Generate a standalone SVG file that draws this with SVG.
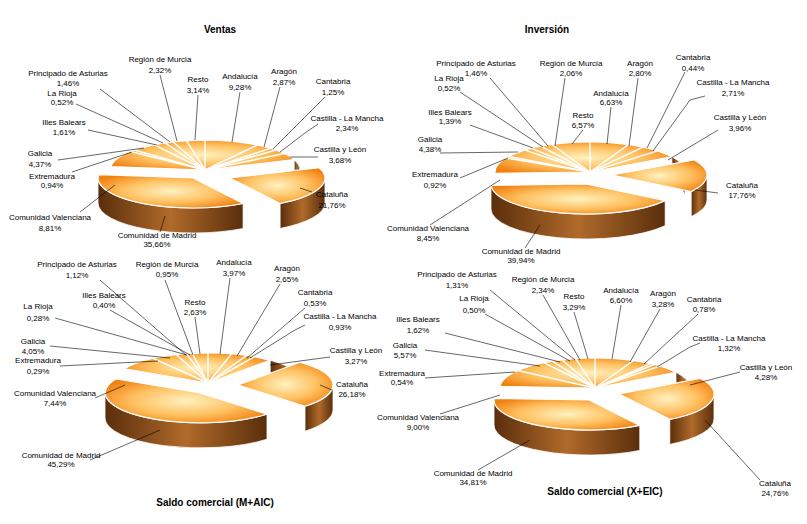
<svg xmlns="http://www.w3.org/2000/svg" width="807" height="524" viewBox="0 0 807 524">
<defs>
<radialGradient id="top" cx="0.5" cy="0.5" r="0.6"><stop offset="0" stop-color="#fff1c0"/><stop offset="0.55" stop-color="#ffc060"/><stop offset="1" stop-color="#f08010"/></radialGradient>
<linearGradient id="side" x1="0" y1="0" x2="1" y2="0"><stop offset="0" stop-color="#5a2e0c"/><stop offset="0.5" stop-color="#b06a2a"/><stop offset="1" stop-color="#5a2e0c"/></linearGradient>
</defs>
<style>
text{font-family:"Liberation Sans",Arial,sans-serif;font-size:8px;fill:#000;text-anchor:middle}
.t{font-weight:bold;font-size:10px}
.s{fill:url(#top);stroke:#fff;stroke-width:1.2}
.d{fill:url(#side);stroke:#fff;stroke-width:0.8}
.sep{stroke:#fff;stroke-width:1.5}
#leaders line,#leaders polyline{stroke:#000;stroke-width:0.6;fill:none}
</style>
<rect width="807" height="524" fill="#fff"/>

<g id="pie-ventas" transform="translate(205,170)">
<path class="d" d="M89.2,-10.3 A95,30 0 0 1 95,0 L95,25 A95,30 0 0 0 89.2,14.7 Z"/>
<path class="s" d="M0,0 L-94.3,-3.4 A95,30 0 0 1 89.2,-10.3 Z"/>
<g class="sep"><line x1="0" y1="0" x2="0" y2="-30"/><line x1="0" y1="0" x2="52.3" y2="-25"/><line x1="0" y1="0" x2="65.6" y2="-21.7"/><line x1="0" y1="0" x2="70.9" y2="-20"/><line x1="0" y1="0" x2="79.4" y2="-16.5"/><line x1="0" y1="0" x2="-18.6" y2="-29.4"/><line x1="0" y1="0" x2="-32" y2="-28.2"/><line x1="0" y1="0" x2="-40" y2="-27.2"/><line x1="0" y1="0" x2="-51.2" y2="-25.3"/><line x1="0" y1="0" x2="-70.9" y2="-20"/><line x1="0" y1="0" x2="-74.6" y2="-18.6"/></g>
<g transform="translate(-12,8)"><path class="d" d="M50.1,25.5 A95,30 0 0 1 -95,0 L-95,25 A95,30 0 0 0 50.1,50.5 Z"/><path class="s" d="M0,0 L50.1,25.5 A95,30 0 0 1 -94.3,-3.4 Z"/></g>
<g transform="translate(25,8)"><path class="d" d="M95,0 A95,30 0 0 1 50.1,25.5 L50.1,50.5 A95,30 0 0 0 95,25 Z"/><path class="s" d="M0,0 L89.2,-10.3 A95,30 0 0 1 50.1,25.5 Z"/></g>
</g>

<g id="pie-inversion" transform="translate(590,172)">
<path class="d" d="M81.9,-15.2 A95,30 0 0 1 95,0 L95,25 A95,30 0 0 0 81.9,9.8 Z"/>
<path class="s" d="M0,0 L-94.9,1.4 A95,30 0 0 1 81.9,-15.2 Z"/>
<g class="sep"><line x1="0" y1="0" x2="0" y2="-30"/><line x1="0" y1="0" x2="38.5" y2="-27.4"/><line x1="0" y1="0" x2="53" y2="-24.9"/><line x1="0" y1="0" x2="67.5" y2="-21.1"/><line x1="0" y1="0" x2="-84.1" y2="-14"/><line x1="0" y1="0" x2="-81.4" y2="-15.5"/><line x1="0" y1="0" x2="-65" y2="-21.9"/><line x1="0" y1="0" x2="-58.7" y2="-23.6"/><line x1="0" y1="0" x2="-49" y2="-25.7"/><line x1="0" y1="0" x2="-38.2" y2="-27.5"/></g>
<g transform="translate(-4,12)"><path class="d" d="M79.2,16.6 A95,30 0 0 1 -95,0 L-95,25 A95,30 0 0 0 79.2,41.6 Z"/><path class="s" d="M0,0 L79.2,16.6 A95,30 0 0 1 -94.9,1.4 Z"/></g>
<g transform="translate(22,3)"><path class="d" d="M95,0 A95,30 0 0 1 79.2,16.6 L79.2,41.6 A95,30 0 0 0 95,25 Z"/><path class="s" d="M0,0 L81.9,-15.2 A95,30 0 0 1 79.2,16.6 Z"/></g>
</g>

<g id="pie-maic" transform="translate(208,383)">
<path class="d" d="M62.2,-22.7 A95,30 0 0 1 95,0 L95,25 A95,30 0 0 0 62.2,2.3 Z"/>
<path class="s" d="M0,0 L-83.7,-14.2 A95,30 0 0 1 62.2,-22.7 Z"/>
<g class="sep"><line x1="0" y1="0" x2="0" y2="-30"/><line x1="0" y1="0" x2="23.5" y2="-29.1"/><line x1="0" y1="0" x2="38.3" y2="-27.4"/><line x1="0" y1="0" x2="46.2" y2="-26.2"/><line x1="0" y1="0" x2="-54.6" y2="-24.5"/><line x1="0" y1="0" x2="-31.6" y2="-28.3"/><line x1="0" y1="0" x2="-21.4" y2="-29.2"/><line x1="0" y1="0" x2="-15.7" y2="-29.6"/></g>
<g transform="translate(-8,10)"><path class="d" d="M67,21.2 A95,30 0 0 1 -95,0 L-95,25 A95,30 0 0 0 67,46.2 Z"/><path class="s" d="M0,0 L67,21.2 A95,30 0 0 1 -83.7,-14.2 Z"/></g>
<g transform="translate(30,2)"><path class="d" d="M95,0 A95,30 0 0 1 67,21.2 L67,46.2 A95,30 0 0 0 95,25 Z"/><path class="s" d="M0,0 L62.2,-22.7 A95,30 0 0 1 67,21.2 Z"/></g>
</g>

<g id="pie-xeic" transform="translate(595,388)">
<path class="d" d="M81,-15.7 A95,30 0 0 1 95,0 L95,25 A95,30 0 0 0 81,9.3 Z"/>
<path class="s" d="M0,0 L-94.9,-1.6 A95,30 0 0 1 81,-15.7 Z"/>
<g class="sep"><line x1="0" y1="0" x2="0" y2="-30"/><line x1="0" y1="0" x2="38.3" y2="-27.4"/><line x1="0" y1="0" x2="55.3" y2="-24.4"/><line x1="0" y1="0" x2="59" y2="-23.5"/><line x1="0" y1="0" x2="64.9" y2="-21.9"/><line x1="0" y1="0" x2="-77.4" y2="-17.4"/><line x1="0" y1="0" x2="-51.2" y2="-25.3"/><line x1="0" y1="0" x2="-42.8" y2="-26.8"/><line x1="0" y1="0" x2="-32.9" y2="-28.1"/><line x1="0" y1="0" x2="-19.4" y2="-29.4"/></g>
<g transform="translate(-6,12)"><path class="d" d="M50.8,25.4 A95,30 0 0 1 -95,0 L-95,25 A95,30 0 0 0 50.8,50.4 Z"/><path class="s" d="M0,0 L50.8,25.4 A95,30 0 0 1 -94.9,-1.6 Z"/></g>
<g transform="translate(24,6)"><path class="d" d="M95,0 A95,30 0 0 1 50.8,25.4 L50.8,50.4 A95,30 0 0 0 95,25 Z"/><path class="s" d="M0,0 L81,-15.7 A95,30 0 0 1 50.8,25.4 Z"/></g>
</g>

<g id="leaders">
<line x1="240" y1="92" x2="232" y2="142"/><line x1="280" y1="87" x2="264" y2="147"/><line x1="325" y1="97" x2="273" y2="149"/><polyline points="318,124 305,133 280,152"/><line x1="318" y1="157" x2="290" y2="157"/><line x1="312" y1="192" x2="300" y2="188"/><line x1="160" y1="232" x2="165" y2="216"/><polyline points="80,212 115,185"/><line x1="72" y1="172" x2="132" y2="152"/><line x1="58" y1="160" x2="144" y2="148"/><line x1="88" y1="130" x2="157" y2="145"/><line x1="76" y1="104" x2="163" y2="143"/><line x1="100" y1="89" x2="170" y2="142"/><line x1="160" y1="75" x2="177" y2="141"/><line x1="198" y1="95" x2="195" y2="140"/>
<line x1="490" y1="78" x2="548" y2="146"/><line x1="565" y1="78" x2="555" y2="146"/><line x1="638" y1="78" x2="629" y2="146"/><line x1="685" y1="72" x2="647" y2="148"/><line x1="460" y1="92" x2="543" y2="147"/><line x1="611" y1="107" x2="607" y2="144"/><polyline points="705,96 690,100 653,151"/><line x1="470" y1="125" x2="533" y2="148"/><line x1="583" y1="130" x2="572" y2="144"/><line x1="718" y1="130" x2="668" y2="160"/><line x1="440" y1="153" x2="518" y2="152"/><line x1="460" y1="178" x2="508" y2="158"/><line x1="718" y1="193" x2="695" y2="190"/><line x1="430" y1="225" x2="500" y2="180"/><line x1="525" y1="248" x2="540" y2="225"/>
<line x1="100" y1="280" x2="186" y2="355"/><line x1="165" y1="280" x2="193" y2="355"/><line x1="230" y1="278" x2="220" y2="354"/><line x1="280" y1="284" x2="237" y2="356"/><line x1="110" y1="310" x2="190" y2="355"/><line x1="195" y1="317" x2="200" y2="354"/><line x1="305" y1="308" x2="247" y2="358"/><line x1="55" y1="318" x2="187" y2="355"/><polyline points="305,325 295,330 250,358"/><line x1="50" y1="346" x2="170" y2="358"/><line x1="330" y1="357" x2="270" y2="365"/><line x1="60" y1="366" x2="158" y2="361"/><line x1="332" y1="390" x2="320" y2="385"/><line x1="95" y1="398" x2="125" y2="385"/><line x1="90" y1="460" x2="160" y2="430"/>
<line x1="490" y1="290" x2="575" y2="360"/><line x1="543" y1="295" x2="580" y2="360"/><line x1="574" y1="312" x2="588" y2="359"/><line x1="621" y1="305" x2="612" y2="359"/><line x1="660" y1="309" x2="630" y2="362"/><line x1="698" y1="314" x2="644" y2="364"/><line x1="485" y1="314" x2="570" y2="361"/><line x1="445" y1="333" x2="560" y2="362"/><polyline points="700,343 690,347 657,367"/><line x1="425" y1="350" x2="540" y2="366"/><line x1="740" y1="372" x2="690" y2="385"/><line x1="425" y1="378" x2="515" y2="372"/><line x1="440" y1="414" x2="500" y2="395"/><line x1="760" y1="480" x2="705" y2="420"/><line x1="478" y1="470" x2="530" y2="440"/>
</g>

<g id="labels">
<text class="t" x="220" y="33">Ventas</text>
<text x="160" y="62">Región de Murcia</text><text x="160" y="73">2,32%</text>
<text x="240" y="79">Andalucía</text><text x="240" y="90">9,28%</text>
<text x="284" y="74">Aragón</text><text x="284" y="85">2,87%</text>
<text x="198" y="82">Resto</text><text x="198" y="93">3,14%</text>
<text x="68" y="76">Principado de Asturias</text><text x="68" y="86">1,46%</text>
<text x="62" y="96">La Rioja</text><text x="62" y="105">0,52%</text>
<text x="333" y="84">Cantabria</text><text x="333" y="95">1,25%</text>
<text x="64" y="125">Illes Balears</text><text x="64" y="135">1,61%</text>
<text x="347" y="121">Castilla - La Mancha</text><text x="347" y="131">2,34%</text>
<text x="40" y="156">Galicia</text><text x="40" y="167">4,37%</text>
<text x="340" y="152">Castilla y León</text><text x="340" y="163">3,68%</text>
<text x="52" y="179">Extremadura</text><text x="52" y="188">0,94%</text>
<text x="332" y="197">Cataluña</text><text x="332" y="208">21,76%</text>
<text x="50" y="220">Comunidad Valenciana</text><text x="50" y="231">8,81%</text>
<text x="157" y="238">Comunidad de Madrid</text><text x="157" y="247">35,66%</text>

<text class="t" x="547" y="33">Inversión</text>
<text x="476" y="66">Principado de Asturias</text><text x="476" y="76">1,46%</text>
<text x="571" y="66">Región de Murcia</text><text x="571" y="76">2,06%</text>
<text x="640" y="66">Aragón</text><text x="640" y="76">2,80%</text>
<text x="693" y="60">Cantabria</text><text x="693" y="71">0,44%</text>
<text x="449" y="81">La Rioja</text><text x="449" y="91">0,52%</text>
<text x="611" y="96">Andalucía</text><text x="611" y="105">6,63%</text>
<text x="733" y="85">Castilla - La Mancha</text><text x="733" y="96">2,71%</text>
<text x="450" y="115">Illes Balears</text><text x="450" y="124">1,39%</text>
<text x="583" y="118">Resto</text><text x="583" y="128">6,57%</text>
<text x="740" y="120">Castilla y León</text><text x="740" y="131">3,96%</text>
<text x="430" y="142">Galicia</text><text x="430" y="152">4,38%</text>
<text x="435" y="177">Extremadura</text><text x="435" y="188">0,92%</text>
<text x="742" y="188">Cataluña</text><text x="742" y="198">17,76%</text>
<text x="428" y="231">Comunidad Valenciana</text><text x="428" y="241">8,45%</text>
<text x="521" y="254">Comunidad de Madrid</text><text x="521" y="263">39,94%</text>

<text x="77" y="267">Principado de Asturias</text><text x="77" y="278">1,12%</text>
<text x="167" y="267">Región de Murcia</text><text x="167" y="277">0,95%</text>
<text x="234" y="265">Andalucía</text><text x="234" y="276">3,97%</text>
<text x="287" y="271">Aragón</text><text x="287" y="282">2,65%</text>
<text x="104" y="298">Illes Balears</text><text x="104" y="308">0,40%</text>
<text x="195" y="305">Resto</text><text x="195" y="315">2,63%</text>
<text x="315" y="295">Cantabria</text><text x="315" y="306">0,53%</text>
<text x="38" y="309">La Rioja</text><text x="38" y="321">0,28%</text>
<text x="340" y="319">Castilla - La Mancha</text><text x="340" y="330">0,93%</text>
<text x="33" y="344">Galicia</text><text x="33" y="354">4,05%</text>
<text x="356" y="353">Castilla y León</text><text x="356" y="364">3,27%</text>
<text x="38" y="363">Extremadura</text><text x="38" y="374">0,29%</text>
<text x="352" y="387">Cataluña</text><text x="352" y="397">26,18%</text>
<text x="55" y="396">Comunidad Valenciana</text><text x="55" y="406">7,44%</text>
<text x="61" y="458">Comunidad de Madrid</text><text x="61" y="467">45,29%</text>
<text class="t" x="215" y="506">Saldo comercial (M+AIC)</text>

<text x="457" y="277">Principado de Asturias</text><text x="457" y="288">1,31%</text>
<text x="543" y="282">Región de Murcia</text><text x="543" y="293">2,34%</text>
<text x="574" y="299">Resto</text><text x="574" y="310">3,29%</text>
<text x="621" y="293">Andalucía</text><text x="621" y="303">6,60%</text>
<text x="663" y="296">Aragón</text><text x="663" y="307">3,28%</text>
<text x="704" y="302">Cantabria</text><text x="704" y="312">0,78%</text>
<text x="474" y="301">La Rioja</text><text x="474" y="313">0,50%</text>
<text x="418" y="322">Illes Balears</text><text x="418" y="333">1,62%</text>
<text x="729" y="341">Castilla - La Mancha</text><text x="729" y="351">1,32%</text>
<text x="405" y="348">Galicia</text><text x="405" y="358">5,57%</text>
<text x="766" y="370">Castilla y León</text><text x="766" y="380">4,28%</text>
<text x="402" y="376">Extremadura</text><text x="402" y="385">0,54%</text>
<text x="418" y="420">Comunidad Valenciana</text><text x="418" y="430">9,00%</text>
<text x="775" y="486">Cataluña</text><text x="775" y="496">24,76%</text>
<text x="473" y="476">Comunidad de Madrid</text><text x="473" y="485">34,81%</text>
<text class="t" x="605" y="495">Saldo comercial (X+EIC)</text>
</g>
</svg>
